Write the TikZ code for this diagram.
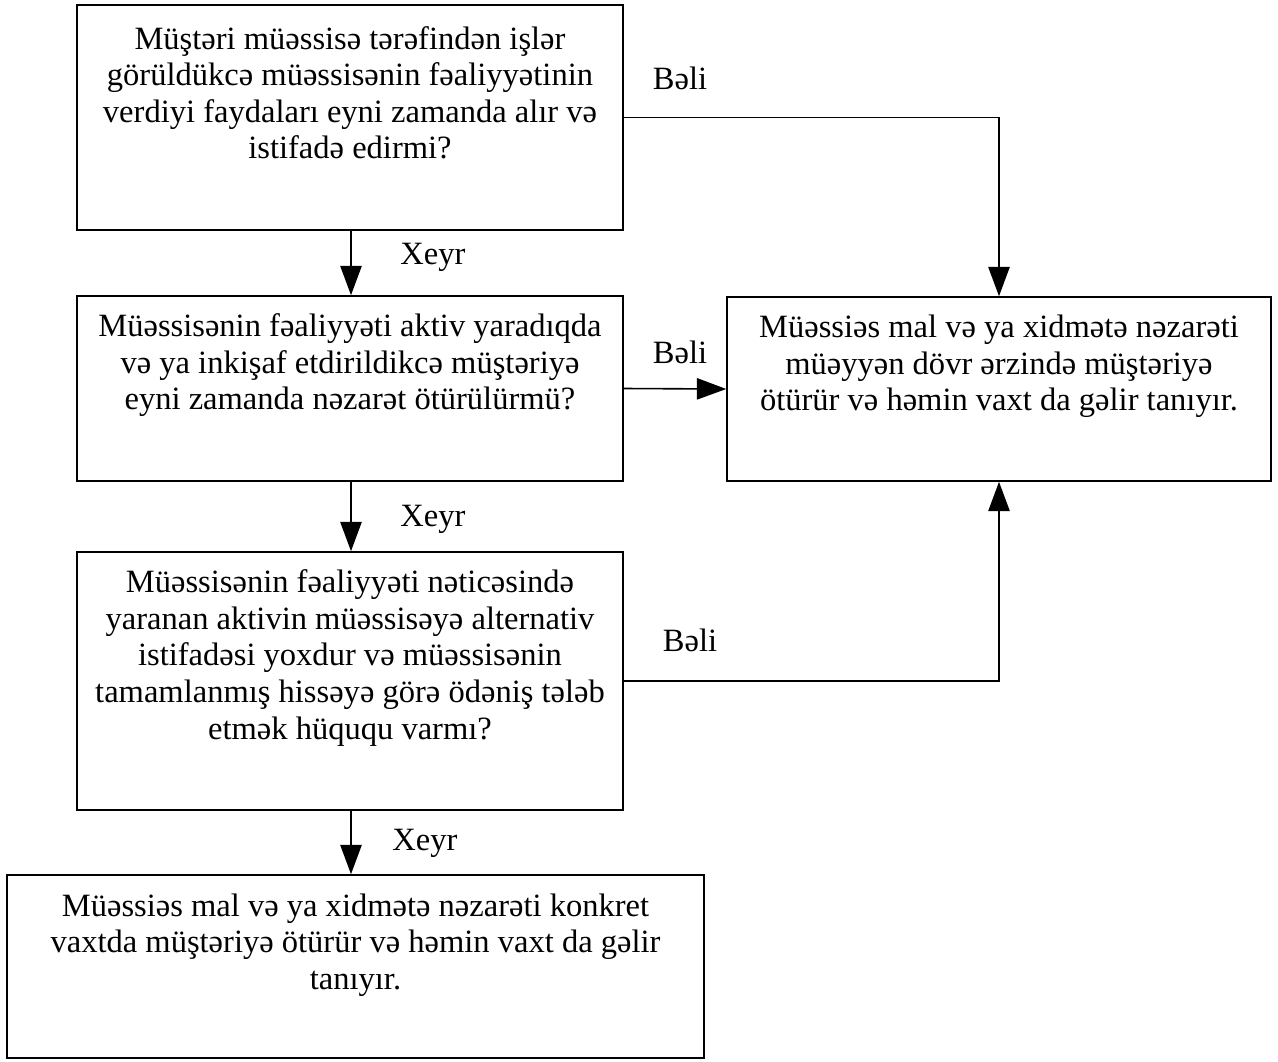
\documentclass[tikz,border=0pt]{standalone}
\usepackage{fontspec}
\setmainfont{Liberation Serif}
\usetikzlibrary{arrows.meta}

\begin{document}
\begin{tikzpicture}[x=0.75pt,y=-0.75pt,line width=1.2pt]
\tikzstyle{every node}=[font=\fontsize{24.4}{27.4}\selectfont]
\tikzstyle{box}=[draw,rectangle,inner sep=0pt]
\tikzstyle{txt}=[align=center,inner sep=0pt,anchor=north]
\tikzstyle{arr}=[-{Triangle[width=16pt,length=22pt]}]
\useasboundingbox (0,0) rectangle (1278,1061);
\node[box,minimum width=409.5pt,minimum height=168.75pt] at (350,117.5) (q1) {};
\node[box,minimum width=409.5pt,minimum height=138.75pt] at (350,388.5) (q2) {};
\node[box,minimum width=408pt,minimum height=138pt] at (999,389) (res1) {};
\node[box,minimum width=409.5pt,minimum height=193.5pt] at (350,681) (q3) {};
\node[box,minimum width=522.75pt,minimum height=137.25pt] at (355.5,966.5) (res2) {};
\node[txt] at ([yshift=-16pt]q1.north) (q1t) {Müştəri müəssisə tərəfindən işlər\\
  görüldükcə müəssisənin fəaliyyətinin\\verdiyi faydaları eyni zamanda alır və\\istifadə edirmi?};
\node[txt] at ([yshift=-13.5pt]q2.north) (q2t) {Müəssisənin fəaliyyəti aktiv yaradıqda\\
  və ya inkişaf etdirildikcə müştəriyə\\eyni zamanda nəzarət ötürülürmü?};
\node[txt] at ([yshift=-13.5pt]res1.north) (res1t) {Müəssiəs mal və ya xidmətə nəzarəti\\
  müəyyən dövr ərzində müştəriyə\\ötürür və həmin vaxt da gəlir tanıyır.};
\node[txt] at ([yshift=-13.5pt]q3.north) (q3t) {Müəssisənin fəaliyyəti nəticəsində\\
  yaranan aktivin müəssisəyə alternativ\\istifadəsi yoxdur və müəssisənin\\
  tamamlanmış hissəyə görə ödəniş tələb\\etmək hüququ varmı?};
\node[txt] at ([yshift=-14pt]res2.north) (res2t) {Müəssiəs mal və ya xidmətə nəzarəti konkret\\
  vaxtda müştəriyə ötürür və həmin vaxt da gəlir\\tanıyır.};
\node at (680,78) (yes1) {Bəli};
\node at (680,352) (yes2) {Bəli};
\node at (690,640) (yes3) {Bəli};
\node at (433,257) (no1) {Xeyr};
\node at (433,519) (no2) {Xeyr};
\node at (425,843) (no3) {Xeyr};
\coordinate (spine) at (351,0);
\draw[arr] (q1.south -| spine) -- (q2.north -| spine);
\draw[arr] (q2.south -| spine) -- (q3.north -| spine);
\draw[arr] (q3.south -| spine) -- (res2.north -| spine);
\draw[arr] (q1.east) -| (res1.north);
\draw[arr] (q2.east) -- (res1.west);
\draw[arr] (q3.east) -| (res1.south);
\end{tikzpicture}
\end{document}
